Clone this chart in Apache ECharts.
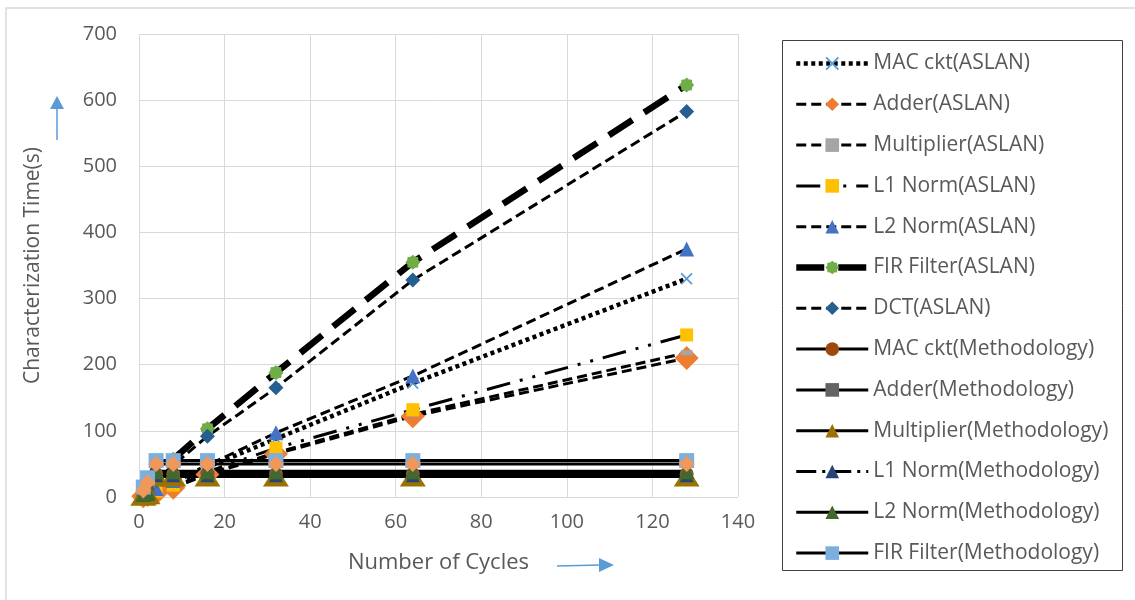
<!DOCTYPE html>
<html><head><meta charset="utf-8">
<script src="https://cdn.jsdelivr.net/npm/echarts@6/dist/echarts.min.js"></script>
<style>html,body{margin:0;padding:0;background:#fff}#c{width:1135px;height:600px}</style>
</head><body><div id="c"></div>
<script>
const cycles = [1, 2, 4, 8, 16, 32, 64, 128];
const xTicks = [0, 20, 40, 60, 80, 100, 120, 140];
const yTicks = [0, 100, 200, 300, 400, 500, 600, 700];

const macAslan   = [3, 6, 12, 23, 45, 88, 172, 330];
const adderAslan = [1, 3, 6, 14, 34, 65, 122, 210];
const multAslan  = [2, 4, 9, 17, 35, 67, 125, 218];
const l1Aslan    = [2, 5, 9, 18, 38, 74, 132, 245];
const l2Aslan    = [3, 7, 13, 25, 48, 97, 183, 375];
const firAslan   = [8, 15, 30, 57, 103, 188, 355, 623];
const dctAslan   = [6, 13, 25, 48, 92, 165, 328, 583];

const macMeth    = [3, 6, 35, 35, 35, 35, 35, 35];
const adderMeth  = [3, 6, 36, 36, 36, 36, 36, 36];
const multMeth   = [2, 4, 31, 31, 31, 31, 31, 31];
const l1Meth     = [3, 5, 33, 33, 33, 33, 33, 33];
const l2Meth     = [5, 8, 39, 39, 39, 39, 39, 39];
const firMeth    = [15, 29, 55, 55, 55, 55, 55, 55];
const dctMeth    = [10, 22, 50, 50, 50, 50, 50, 50];

const names = ['MAC ckt(ASLAN)','Adder(ASLAN)','Multiplier(ASLAN)','L1 Norm(ASLAN)','L2 Norm(ASLAN)','FIR Filter(ASLAN)','DCT(ASLAN)',
  'MAC ckt(Methodology)','Adder(Methodology)','Multiplier(Methodology)','L1 Norm(Methodology)','L2 Norm(Methodology)','FIR Filter(Methodology)','DCT(Methodology)'];

const X_PATH = 'path://M1,0L5,4L9,0L10,1L6,5L10,9L9,10L5,6L1,10L0,9L4,5L0,1Z';
const DASH_PATH = 'path://M0,0L10,0L10,4L0,4Z';
const STAR_PATH = 'path://M20,10L17.39,13.06L17.07,17.07L13.06,17.39L10,20L6.94,17.39L2.93,17.07L2.61,13.06L0,10L2.61,6.94L2.93,2.93L6.94,2.61L10,0L13.06,2.61L17.07,2.93L17.39,6.94Z';

function pts(vals){ return cycles.map((c,i)=>[c, vals[i]]); }
function mk(name, vals, color, symbol, size, lineWidth, dash){
  return {
    name, type:'line', data: pts(vals), symbol, symbolSize:size, symbolKeepAspect:false,
    itemStyle:{color, borderWidth:0},
    lineStyle:{color:'#000', width:lineWidth, type:dash, cap:'butt'},
    emphasis:{disabled:true}, animation:false, z:2
  };
}

const series = [
  mk(names[0], macAslan, '#5B9BD5', X_PATH, 12, 4.5, [4,3.5]),
  mk(names[1], adderAslan, '#ED7D31', 'diamond', 24, 3, [10,5]),
  mk(names[2], multAslan, '#A5A5A5', DASH_PATH, [12,5], 3, [10,5]),
  mk(names[3], l1Aslan, '#FFC000', 'rect', 13, 3, [24,10,3,10,3,10]),
  mk(names[4], l2Aslan, '#4472C4', 'triangle', 15, 3, [10,5]),
  mk(names[5], firAslan, '#70AD47', STAR_PATH, 15, 6.5, [28,14]),
  mk(names[6], dctAslan, '#255E91', 'diamond', 15, 3, [10,5]),
  mk(names[7], macMeth, '#9E480E', 'circle', 14, 3, 'solid'),
  mk(names[8], adderMeth, '#636363', DASH_PATH, [12,5], 3, 'solid'),
  mk(names[9], multMeth, '#997300', 'triangle', [26,20], 3, 'solid'),
  mk(names[10], l1Meth, '#264478', 'triangle', 14, 3, [20,6,3,6]),
  mk(names[11], l2Meth, '#43682B', 'triangle', 16, 3, 'solid'),
  mk(names[12], firMeth, '#7CAFDD', 'rect', 15, 3, 'solid'),
  mk(names[13], dctMeth, '#F1975A', 'diamond', 16, 3, 'solid')
];

const font = '"Open Sans", "Noto Sans", sans-serif';
const txt = '#595959';
const arrowColor = '#5B9BD5';

const chart = echarts.init(document.getElementById('c'), null, {renderer:'canvas'});
chart.setOption({
  backgroundColor:'#fff',
  animation:false,
  textStyle:{fontFamily:font},
  grid:{left:139, right:397, top:34, bottom:103, containLabel:false},
  xAxis:{
    type:'value', min:xTicks[0], max:xTicks[xTicks.length-1], interval:xTicks[1]-xTicks[0],
    name:'Number of Cycles', nameLocation:'middle', nameGap:55,
    nameTextStyle:{color:txt, fontSize:22, fontFamily:font},
    axisLine:{show:false}, axisTick:{show:false},
    axisLabel:{color:txt, fontSize:20, margin:15, fontFamily:font},
    splitLine:{show:true, lineStyle:{color:'#D9D9D9', width:1}}
  },
  yAxis:{
    type:'value', min:yTicks[0], max:yTicks[yTicks.length-1], interval:yTicks[1]-yTicks[0],
    name:'Characterization Time(s)', nameLocation:'middle', nameGap:95,
    nameTextStyle:{color:txt, fontSize:21, fontFamily:font},
    axisLine:{show:false}, axisTick:{show:false},
    axisLabel:{color:txt, fontSize:20, margin:22, fontFamily:font},
    splitLine:{show:true, lineStyle:{color:'#D9D9D9', width:1}}
  },
  legend:{
    orient:'vertical', left:793, top:53, padding:0,
    data: names.slice(0,13),
    itemWidth:72, itemHeight:17, itemGap:19.8,
    lineStyle:{width:'inherit', type:'inherit'},
    textStyle:{color:txt, fontSize:21, fontFamily:font},
    selectedMode:false
  },
  graphic:[
    {type:'rect', shape:{x:6, y:8, width:1200, height:700}, style:{fill:'none', stroke:'#D9D9D9', lineWidth:1.5}, silent:true, z:-10},
    {type:'rect', shape:{x:782.5, y:40.5, width:340, height:530}, style:{fill:'none', stroke:'#404040', lineWidth:1}, silent:true},
    {type:'line', shape:{x1:57, y1:140, x2:57, y2:108}, style:{stroke:arrowColor, lineWidth:1.5}, silent:true},
    {type:'polygon', shape:{points:[[57,96],[50,109],[64,109]]}, style:{fill:arrowColor}, silent:true},
    {type:'line', shape:{x1:557, y1:566, x2:600, y2:565}, style:{stroke:arrowColor, lineWidth:1.5}, silent:true},
    {type:'polygon', shape:{points:[[614,565],[599,558],[599,572]]}, style:{fill:arrowColor}, silent:true}
  ],
  series
});
</script></body></html>
